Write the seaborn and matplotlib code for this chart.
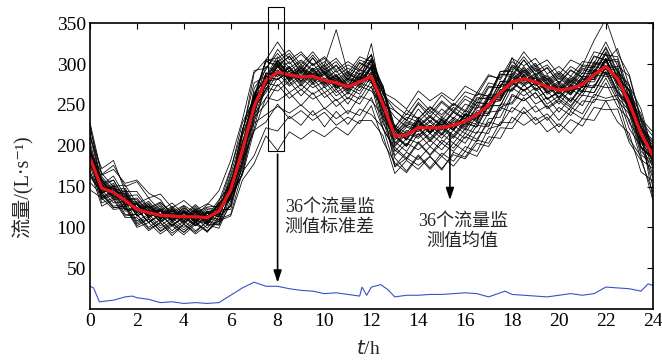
import numpy as np
import pandas as pd
import matplotlib
matplotlib.use("Agg")
import matplotlib.pyplot as plt
import matplotlib.patches as patches
import seaborn as sns

t_hours = [i * 0.5 for i in range(49)]

mean_flow = [185,148,143,133,122,118,115,114,113,113,112,120,146,195,248,280,290,287,284,285,280,277,272,278,285,250,212,213,222,222,222,225,230,238,250,265,278,282,278,272,268,270,275,287,297,282,252,215,188]

std_t = [0,0.15,0.4,1,1.5,1.8,2,2.5,3,3.5,4,4.5,5,5.5,6,6.5,7,7.5,8,8.5,9,9.5,10,10.5,11,11.5,11.6,11.8,12,12.4,12.7,13,13.5,14,14.5,15,15.5,16,16.5,17,17.5,17.7,18,18.5,19,19.5,20,20.5,21,21.5,22,22.5,23,23.5,23.8,24]
std_v = [28,26,9,11,15,16,14,12,8,9,7,8,7,8,17,26,33,28,28,25,23,22,19,20,18,16,27,17,27,30,24,15,17,17,18,18,19,20,19,15,20,22,18,17,16,15,17,19,17,19,27,26,25,22,31,29]

s01 = [212,152,163,138,140,122,130,119,127,118,125,126,170,228,258,304,296,310,289,308,287,298,280,302,294,270,222,244,233,248,238,252,243,265,260,288,284,305,286,296,276,292,284,310,304,306,258,232,188]
s02 = [164,143,126,128,106,113,99,108,97,109,104,103,128,176,247,268,299,282,293,283,291,273,283,276,296,240,212,200,222,209,224,213,231,226,252,255,283,273,283,263,272,262,279,278,303,272,255,203,186]
s03 = [228,165,176,150,156,136,141,124,133,121,129,123,158,196,270,293,318,300,312,298,307,290,299,291,312,262,249,238,258,243,262,249,266,261,285,283,307,298,307,288,297,285,303,301,327,298,285,230,212]
s04 = [155,140,124,126,104,111,95,104,94,106,96,110,116,168,188,222,218,236,225,243,223,242,226,245,238,222,174,185,176,187,172,189,184,203,199,222,221,242,226,235,216,232,224,247,244,245,204,182,144]
s05 = [186,137,146,122,124,106,116,102,114,104,114,110,138,166,228,238,248,240,250,237,246,233,243,237,259,220,198,185,205,189,207,197,215,208,229,225,247,239,249,231,247,237,255,253,277,248,232,183,172]
s06 = [210,172,182,144,144,124,131,116,126,112,122,119,162,202,265,281,305,287,297,285,295,277,287,281,303,248,225,215,235,223,235,225,243,237,263,263,291,283,293,273,283,271,289,288,312,283,267,215,197]
s07 = [146,136,122,124,100,106,92,102,91,104,95,108,114,158,178,212,194,217,208,219,211,223,213,231,231,212,166,182,171,187,170,192,186,207,203,229,228,247,231,239,223,242,233,257,255,257,208,187,134]
s08 = [196,144,151,129,130,114,122,109,118,108,117,113,150,190,259,275,299,279,295,277,289,271,277,275,295,243,219,207,227,217,227,219,237,229,259,259,287,277,283,265,273,265,281,281,307,275,259,205,192]
s09 = [190,160,144,146,122,130,114,124,112,122,113,130,144,212,251,297,291,303,283,301,281,292,273,293,287,265,215,229,223,235,225,241,231,253,251,279,279,297,279,287,269,285,277,303,298,297,253,229,188]
s10 = [184,136,142,120,122,106,116,102,112,102,112,107,142,178,247,265,289,273,283,271,279,261,271,263,285,233,211,199,221,205,221,209,227,223,249,249,277,267,277,257,267,255,273,271,297,265,249,198,185]
s11 = [194,158,142,144,120,128,114,124,111,124,110,129,146,220,261,305,303,313,295,311,293,303,285,305,299,273,223,239,233,247,235,251,241,263,261,291,291,309,291,299,281,297,288,315,311,309,265,239,193]
s12 = [170,126,134,112,112,96,106,93,104,92,103,99,132,167,235,251,275,258,269,257,265,248,259,251,273,221,195,183,203,188,203,193,211,205,233,235,263,255,265,245,255,243,262,259,283,255,239,189,177]
s13 = [182,156,142,142,120,126,111,122,108,121,107,122,122,178,221,279,281,297,279,295,277,287,271,297,311,269,213,225,219,231,219,235,225,249,247,275,275,293,275,283,265,281,271,297,293,293,248,225,185]
s14 = [216,154,158,134,136,119,128,114,124,114,128,145,182,232,292,295,313,295,305,293,303,285,295,287,307,255,235,223,245,229,245,233,251,245,271,271,299,289,299,279,289,277,297,295,321,291,275,223,207]
s15 = [176,152,136,136,114,122,108,118,106,118,104,124,138,204,243,289,285,295,277,293,275,285,267,287,279,247,175,192,183,199,187,203,193,217,215,247,253,275,258,267,251,269,261,287,285,283,238,212,173]
s16 = [192,142,150,128,129,112,121,108,119,106,118,115,155,192,263,285,309,291,303,291,299,281,291,283,305,248,222,211,232,217,233,221,239,233,259,255,279,268,277,257,265,253,273,271,295,265,249,198,183]
s17 = [186,158,140,142,118,126,110,122,108,120,106,126,140,206,243,289,287,297,279,295,277,287,269,289,281,259,211,227,223,235,223,241,233,257,259,291,293,315,297,305,287,305,298,329,355,313,287,233,217]
s18 = [190,142,148,126,128,112,120,106,118,106,118,113,152,188,257,277,303,285,295,287,299,342,289,279,297,245,221,208,231,215,231,219,237,231,257,257,285,275,285,265,275,263,282,281,305,275,257,207,192]
s19 = [166,146,130,132,108,116,102,112,100,112,99,118,126,184,218,259,255,265,249,265,245,257,239,261,255,237,188,203,195,207,195,212,203,225,223,251,251,269,251,259,241,259,249,275,271,272,228,207,165]
s20 = [194,144,152,128,130,114,123,110,120,109,119,116,155,192,259,277,301,283,295,283,291,273,283,275,297,245,223,211,233,217,233,221,239,235,261,261,289,279,289,269,279,267,285,283,307,277,261,211,197]
s21 = [177,153,136,138,114,122,107,118,105,118,104,123,137,200,239,285,281,291,273,289,271,281,263,283,277,253,201,217,211,225,213,229,219,241,239,269,267,285,267,275,257,273,265,291,287,285,241,217,178]
s22 = [204,150,158,134,134,118,126,112,124,114,124,121,165,214,289,305,327,305,315,299,309,293,303,293,311,263,243,231,251,235,253,241,257,249,273,271,297,287,297,277,287,275,295,291,315,285,269,219,203]
s23 = [162,142,124,126,102,110,96,106,94,107,94,114,126,193,233,277,273,285,268,283,265,275,257,277,271,247,193,209,203,215,203,219,209,229,225,247,241,259,241,249,231,247,239,263,258,262,221,199,161]
s24 = [200,146,154,132,132,116,124,110,121,110,120,117,157,196,263,281,305,287,299,287,297,279,289,281,305,265,257,245,267,255,265,255,273,265,287,281,303,291,301,281,291,279,299,297,319,289,273,221,205]
s25 = [226,151,134,136,114,121,106,116,104,116,103,122,134,198,238,285,281,292,275,291,273,283,265,285,279,255,203,219,213,225,213,231,221,243,241,269,269,287,269,277,259,275,267,293,289,287,243,219,136]
s26 = [222,164,171,154,158,142,134,114,122,109,120,115,153,190,257,275,299,281,291,279,289,271,281,273,295,243,221,209,231,215,231,219,237,231,257,257,285,275,285,265,275,263,283,281,305,277,262,213,150]
s27 = [180,154,138,140,118,126,111,121,108,120,108,132,172,218,277,285,303,285,295,283,293,275,285,277,299,251,243,231,253,239,255,243,261,253,277,273,297,285,295,275,285,273,293,289,313,283,267,215,201]
s28 = [182,136,144,122,122,106,116,102,114,102,114,109,139,164,219,229,251,233,243,231,241,225,235,227,249,205,179,167,187,171,187,175,193,187,211,209,235,225,235,217,227,215,233,231,255,229,215,168,157]
s29 = [194,166,150,152,129,136,120,130,116,128,114,134,152,220,258,303,299,309,291,307,289,299,281,301,293,269,219,235,229,243,231,247,237,259,257,287,287,305,287,295,277,293,283,309,305,303,259,235,193]
s30 = [176,130,136,114,116,100,110,96,108,96,107,103,137,172,239,258,283,265,275,263,272,255,265,257,279,227,205,193,215,199,215,203,221,215,241,243,271,261,271,251,261,249,267,265,289,259,243,193,179]
s31 = [180,156,138,140,116,124,110,120,108,120,106,125,140,204,243,289,285,295,279,295,275,285,268,289,281,257,207,223,217,229,215,233,223,247,245,273,273,291,273,281,263,279,271,299,303,319,273,245,193]
s32 = [181,134,140,116,116,98,106,90,104,94,108,105,143,182,251,269,293,275,287,275,283,265,275,267,289,237,213,201,223,207,223,211,229,223,249,249,277,267,277,257,267,255,275,273,297,267,251,199,185]
s33 = [184,158,142,144,120,128,112,122,110,122,109,128,144,214,255,305,307,317,299,315,297,307,289,309,303,273,215,231,225,237,225,243,233,253,251,279,277,295,277,285,267,283,275,301,297,295,249,225,183]
s34 = [190,142,148,126,128,112,120,108,118,106,118,113,151,186,255,273,297,279,289,277,287,269,279,271,291,231,185,169,189,173,191,181,199,193,221,225,261,255,265,247,257,247,267,265,291,263,247,197,185]
s35 = [190,162,146,148,124,132,116,126,114,126,112,130,134,192,229,271,267,279,261,277,259,269,251,273,267,247,199,215,209,221,209,225,215,237,237,267,267,287,269,277,259,275,267,293,289,289,243,221,179]
s36 = [194,142,150,128,130,112,122,108,120,108,118,115,153,190,257,275,297,281,291,281,289,271,281,277,325,249,219,207,229,215,229,219,239,233,259,261,308,279,287,267,277,265,285,283,307,277,261,209,195]

series_list = [s01,s02,s03,s04,s05,s06,s07,s08,s09,s10,s11,s12,s13,s14,s15,s16,s17,s18,
               s19,s20,s21,s22,s23,s24,s25,s26,s27,s28,s29,s30,s31,s32,s33,s34,s35,s36]

rows = []
for k, s in enumerate(series_list):
    for tt, v in zip(t_hours, s):
        rows.append((k, tt, v))
df = pd.DataFrame(rows, columns=["series", "t", "flow"])
df_mean = pd.DataFrame({"t": t_hours, "flow": mean_flow})
df_std = pd.DataFrame({"t": std_t, "flow": std_v})

sns.set_theme(style="white")
plt.rcParams["font.family"] = ["Liberation Serif", "DejaVu Serif", "Noto Sans CJK SC"]

fig = plt.figure(figsize=(6.62, 3.62), dpi=100)
ax = fig.add_axes([0.136, 0.146, 0.850, 0.790])

sns.lineplot(data=df, x="t", y="flow", units="series", estimator=None,
             color="black", linewidth=0.55, ax=ax, legend=False)
sns.lineplot(data=df_mean, x="t", y="flow", color="#e8161c", linewidth=2.3, ax=ax)
sns.lineplot(data=df_std, x="t", y="flow", color="#3553c8", linewidth=0.8, ax=ax)

ax.set_xlim(0, 24)
ax.set_ylim(0, 350)
ax.set_xticks(list(range(0, 25, 2)))
ax.set_yticks([50, 100, 150, 200, 250, 300, 350])
ax.tick_params(direction="in", length=4, width=0.8, top=True, right=True,
               labelsize=14, colors="black", pad=3)
for sp in ax.spines.values():
    sp.set_color("black")
    sp.set_linewidth(1.2)

ax.set_xlabel("")
ax.set_ylabel("")
fig.text(0.556, 0.035, r"$\it{t}$/h", ha="center", va="center", fontsize=14)
fig.text(0.034, 0.484, "流量/(L·s⁻¹)", ha="center", va="center", rotation=90,
         fontsize=14.5, family=["Liberation Serif", "DejaVu Serif", "Noto Sans CJK SC"])

rect = patches.Rectangle((7.6, 193), 0.67, 177, fill=False, edgecolor="black",
                         linewidth=0.8, clip_on=False, zorder=5)
ax.add_patch(rect)

ax.annotate("", xy=(8.0, 29), xytext=(8.0, 193),
            arrowprops=dict(arrowstyle="-|>,head_length=0.6,head_width=0.2",
                            color="black", lw=1.2), zorder=6)
ax.annotate("", xy=(15.35, 130), xytext=(15.35, 219),
            arrowprops=dict(arrowstyle="-|>,head_length=0.6,head_width=0.2",
                            color="black", lw=1.2), zorder=6)

ax.text(8.3, 112, "36个流量监\n测值标准差", ha="left", va="center", fontsize=13,
        linespacing=1.25, family=["Liberation Serif", "Noto Sans CJK SC"])
ax.text(15.9, 95, "36个流量监\n测值均值", ha="center", va="center", fontsize=13,
        linespacing=1.25, multialignment="center",
        family=["Liberation Serif", "Noto Sans CJK SC"])

fig.savefig("out.png", dpi=100, facecolor="white")
